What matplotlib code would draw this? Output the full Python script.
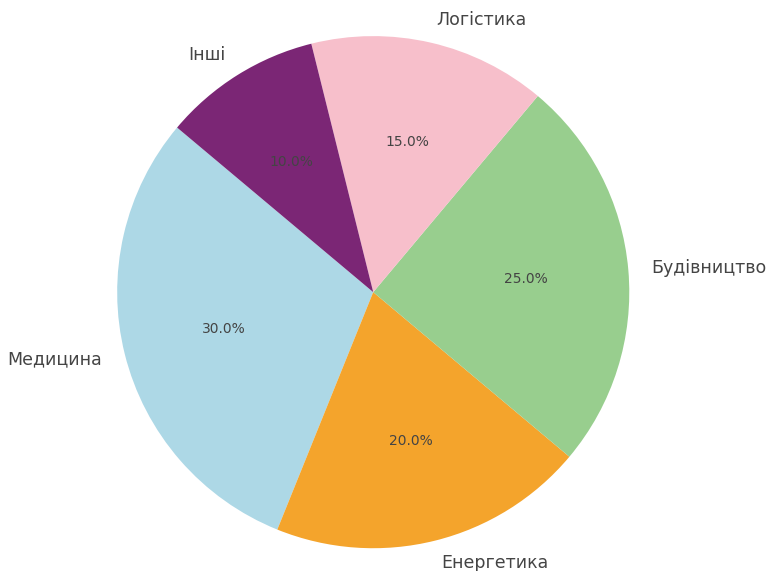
import matplotlib
matplotlib.use("Agg")
import matplotlib.pyplot as plt

# Sector shares
labels = ["Медицина", "Енергетика", "Будівництво", "Логістика", "Інші"]
shares = [30, 20, 25, 15, 10]
colors = ["#ADD8E6", "#F4A42C", "#98CE8E", "#F7BFCB", "#7B2675"]

plt.rcParams["font.family"] = ["DejaVu Sans"]

fig = plt.figure(figsize=(7.69, 5.71), dpi=100)
ax = fig.add_axes([0.0, 0.0, 1.0, 1.0])

wedges, texts, autotexts = ax.pie(
    shares,
    labels=labels,
    colors=colors,
    startangle=140,
    autopct="%1.1f%%",
    pctdistance=0.6,
    labeldistance=1.09,
    textprops={"color": "#444444"},
)
for t in texts:
    t.set_fontsize(12.5)
for t in autotexts:
    t.set_fontsize(10)

ax.set_aspect("equal")
ax.set_xlim(-1.456, 1.544)
ax.set_ylim(-1.089, 1.141)

fig.savefig("out.png", dpi=100, facecolor="white")
